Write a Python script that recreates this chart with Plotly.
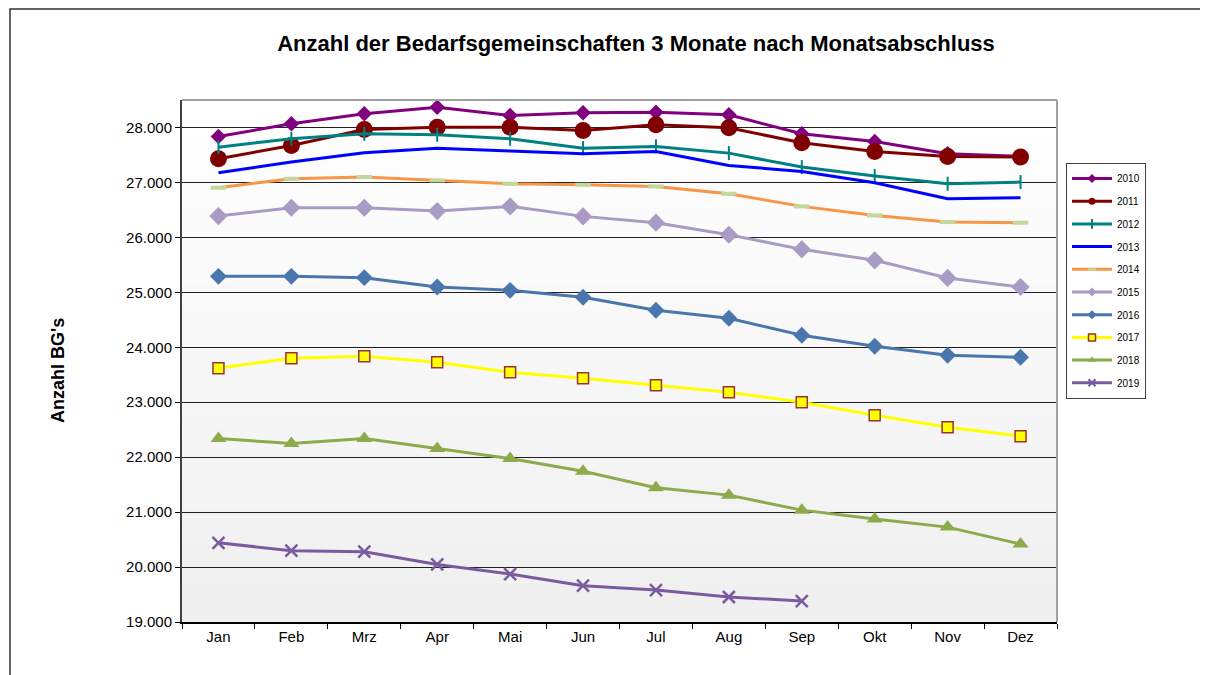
import plotly.graph_objects as go

months = ["Jan", "Feb", "Mrz", "Apr", "Mai", "Jun", "Jul", "Aug", "Sep", "Okt", "Nov", "Dez"]

y2010 = [27836, 28067, 28249, 28369, 28218, 28267, 28278, 28230, 27885, 27745, 27521, 27473]
y2011 = [27430, 27673, 27964, 28006, 28006, 27945, 28048, 27994, 27721, 27564, 27473, 27461]
y2012 = [27642, 27794, 27885, 27867, 27794, 27624, 27655, 27533, 27279, 27115, 26976, 27006]
y2013 = [27176, 27370, 27539, 27624, 27570, 27521, 27564, 27309, 27200, 26994, 26703, 26721]
y2014 = [26903, 27067, 27097, 27036, 26976, 26958, 26927, 26794, 26564, 26400, 26279, 26267]
y2015 = [26388, 26539, 26539, 26479, 26564, 26382, 26267, 26048, 25782, 25582, 25261, 25097]
y2016 = [25291, 25291, 25267, 25097, 25036, 24909, 24673, 24527, 24218, 24018, 23855, 23818]
y2017 = [23618, 23800, 23836, 23727, 23545, 23436, 23309, 23182, 23000, 22764, 22545, 22382]
y2018 = [22339, 22248, 22339, 22158, 21976, 21745, 21442, 21309, 21036, 20873, 20727, 20418]
y2019 = [20442, 20297, 20279, 20048, 19873, 19660, 19582, 19455, 19382]

series = [
    ("2010", y2010, "#800080", dict(symbol="diamond", size=12, color="#800080"), 7),
    ("2011", y2011, "#800000", dict(symbol="circle", size=17, color="#800000"), 7),
    ("2012", y2012, "#008080", dict(symbol="line-ns-open", size=10, color="#008080", line=dict(color="#008080", width=2)), 7),
    ("2013", y2013, "#0000FF", None, 0),
    ("2014", y2014, "#F79646", dict(symbol="line-ew-open", size=11, color="#C3D69B", line=dict(color="#C3D69B", width=4)), 6),
    ("2015", y2015, "#A99BC4", dict(symbol="diamond", size=14, color="#A99BC4"), 7),
    ("2016", y2016, "#4A76AE", dict(symbol="diamond", size=13, color="#4A76AE"), 7),
    ("2017", y2017, "#FFFF00", dict(symbol="square", size=11, color="#FFFF00", line=dict(color="#993333", width=1.5)), 7),
    ("2018", y2018, "#8DAA4C", dict(symbol="triangle-up", size=14, color="#8DAA4C"), 7),
    ("2019", y2019, "#7A5C9E", dict(symbol="x-thin-open", size=12, color="#7A5C9E", line=dict(color="#7A5C9E", width=2.5)), 7),
]

fig = go.Figure()
for i, (name, vals, col, mk, lsize) in enumerate(series):
    kw = dict(mode="lines+markers", marker=mk) if mk else dict(mode="lines")
    fig.add_trace(go.Scatter(
        x=months[:len(vals)], y=vals, name=name, showlegend=False,
        line=dict(color=col, width=3), legendgroup=f"g{i}", **kw))
for i, (name, vals, col, mk, lsize) in enumerate(series):
    if mk:
        lm = dict(mk)
        lm["size"] = lsize
        if "line" in lm:
            lm["line"] = dict(lm["line"])
            lm["line"]["width"] = min(lm["line"]["width"], 2)
        kw = dict(mode="lines+markers", marker=lm)
    else:
        kw = dict(mode="lines")
    fig.add_trace(go.Scatter(
        x=[None], y=[None], name=name, showlegend=True,
        line=dict(color=col, width=3), legendgroup=f"g{i}", **kw))

# gradient background bands
shapes = []
n = 40
ymin, ymax = 19000, 28500
for k in range(n):
    y0 = ymin + (ymax - ymin) * k / n
    y1 = ymin + (ymax - ymin) * (k + 1) / n
    t = k / (n - 1)
    g = int(240 + 15 * t)
    shapes.append(dict(type="rect", xref="paper", yref="y", x0=0, x1=1, y0=y0, y1=y1,
                       fillcolor=f"rgb({g},{g},{g})", line=dict(width=0), layer="below"))
# plot border top/right
shapes.append(dict(type="line", xref="paper", yref="paper", x0=0, x1=1, y0=1, y1=1,
                   line=dict(color="#A0A0A0", width=2)))
shapes.append(dict(type="line", xref="paper", yref="paper", x0=1, x1=1, y0=0, y1=1,
                   line=dict(color="#A0A0A0", width=2)))
# outer frame
shapes.append(dict(type="rect", xref="paper", yref="paper",
                   x0=(10 - 182) / 875, x1=(1225 - 182) / 875,
                   y0=(622 - 700) / 522, y1=(622 - 9) / 522,
                   line=dict(color="#303030", width=1.5), layer="below"))

fig.update_layout(
    width=1208, height=675,
    margin=dict(l=174, r=159, t=92, b=61),
    paper_bgcolor="white", plot_bgcolor="white",
    separators=",.",
    font=dict(family="Liberation Sans, Arial", color="black", size=12),
    title=dict(text="<b>Anzahl der Bedarfsgemeinschaften 3 Monate nach Monatsabschluss</b>",
               x=628 / 1208, xanchor="center", y=1 - 35 / 675, yanchor="middle",
               font=dict(size=22, family="Liberation Sans, Arial", color="black")),
    shapes=shapes,
    annotations=[dict(text="<b>Anzahl BG's</b>", xref="paper", yref="paper",
                      x=(58 - 182) / 875, y=(622 - 371) / 522, textangle=-90,
                      showarrow=False, xanchor="center", yanchor="middle",
                      font=dict(size=18, family="Liberation Sans, Arial", color="black"))],
    showlegend=True,
    legend=dict(x=(1066 - 182) / 875, xanchor="left", y=(622 - 163) / 522, yanchor="top",
                bordercolor="#404040", borderwidth=1, bgcolor="white",
                font=dict(size=10, family="Liberation Sans, Arial"),
                tracegroupgap=3.7, itemwidth=40),
    xaxis=dict(type="category", range=[-0.5, 11.5], showgrid=False,
               showline=True, linecolor="black", linewidth=1.5,
               ticks="outside", tickson="boundaries", ticklen=5, tickcolor="black",
               tickfont=dict(size=15, family="Liberation Sans, Arial"), zeroline=False),
    yaxis=dict(range=[19000, 28500], dtick=1000, tick0=19000, tickformat=",d",
               showgrid=True, gridcolor="#202020", gridwidth=1,
               showline=True, linecolor="#404040", linewidth=2,
               ticks="outside", ticklen=5, tickcolor="black", zeroline=False,
               tickfont=dict(size=15, family="Liberation Sans, Arial")),
)

fig.write_html("out.html")
